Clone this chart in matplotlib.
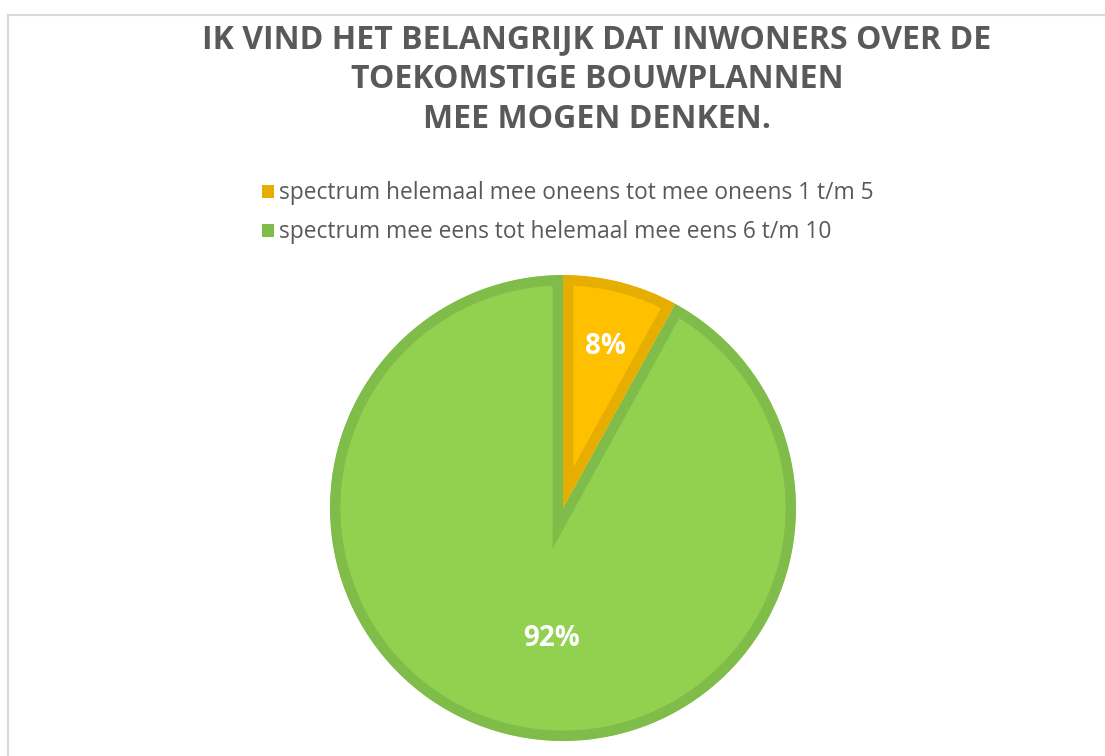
import matplotlib.pyplot as plt
from matplotlib.patches import Patch
from matplotlib.lines import Line2D

# data
categories = ["spectrum helemaal mee oneens tot mee oneens 1 t/m 5",
              "spectrum mee eens tot helemaal mee eens 6 t/m 10"]
values = [8, 92]
fill_colors = ["#FFC000", "#92D050"]
edge_colors = ["#E6AE00", "#80BC4A"]
title = "IK VIND HET BELANGRIJK DAT INWONERS OVER DE\nTOEKOMSTIGE BOUWPLANNEN\nMEE MOGEN DENKEN."

W, H = 1105, 756
plt.rcParams['font.family'] = ['Open Sans', 'DejaVu Sans']

fig = plt.figure(figsize=(W / 100, H / 100), dpi=100)
ax = fig.add_axes([0, 0, 1, 1])

# pie in pixel coords (y flipped)
cx, cy, r = 563, H - 508, 233
wedges, texts, autotexts = ax.pie(
    values, colors=fill_colors, startangle=90, counterclock=False,
    center=(cx, cy), radius=r, autopct='%1.0f%%', pctdistance=0.65,
    wedgeprops=dict(linewidth=15, joinstyle='miter'),
    textprops=dict(color='white', fontsize=20, fontweight='bold'))

# strokes only visible on the inner side of each slice
for w, ec in zip(wedges, edge_colors):
    w.set_edgecolor(ec)
    w.set_clip_path(w)
    w.set_clip_on(True)
wedges[0].set_zorder(3)
wedges[1].set_zorder(2)

label_pos = [(605, 347), (551, 638)]
for t, (px, py) in zip(autotexts, label_pos):
    t.set_position((px, H - py))
    t.set_zorder(5)

ax.set_xlim(0, W)
ax.set_ylim(0, H)
ax.set_aspect('equal')
ax.axis('off')

ax.text(597, H - 80, title, ha='center', va='center', fontsize=23,
        fontweight='bold', color='#595959', linespacing=1.28)

handles = [Patch(facecolor=c, edgecolor='none') for c in edge_colors]
leg = ax.legend(handles, categories, loc='upper left',
                bbox_to_anchor=(251 / W, 1 - 170 / H), frameon=False,
                fontsize=16.4, handlelength=0.5, handleheight=0.5,
                handletextpad=0.25, labelspacing=0.66, borderpad=0)
for t in leg.get_texts():
    t.set_color('#595959')

# outer frame of the chart area
fig.add_artist(Line2D([8 / W, 8 / W], [0, 1 - 15 / H], color='#D9D9D9', lw=1.5))
fig.add_artist(Line2D([8 / W, 1], [1 - 15 / H, 1 - 15 / H], color='#D9D9D9', lw=1.5))

fig.savefig('out.png', dpi=100)
